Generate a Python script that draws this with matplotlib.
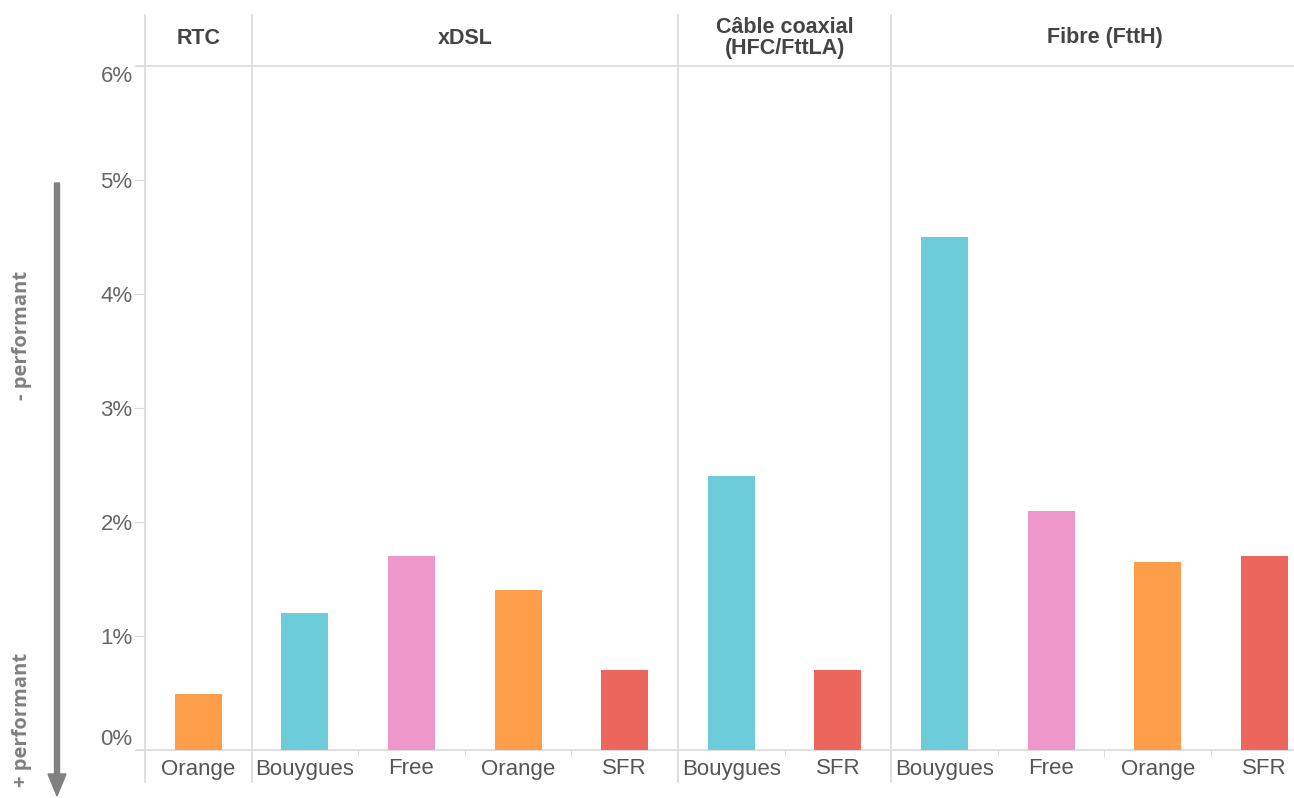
import numpy as np
import matplotlib.pyplot as plt
from matplotlib.transforms import blended_transform_factory

# Données (taux en %)
groupes = ["RTC", "xDSL", "Câble coaxial\n(HFC/FttLA)", "Fibre (FttH)"]
operateurs = [["Orange"],
              ["Bouygues", "Free", "Orange", "SFR"],
              ["Bouygues", "SFR"],
              ["Bouygues", "Free", "Orange", "SFR"]]
valeurs = [[0.49],
           [1.2, 1.7, 1.4, 0.7],
           [2.4, 0.7],
           [4.5, 2.1, 1.65, 1.7]]
couleurs = {"Bouygues": "#6DCCDA", "Free": "#ED97CA",
            "Orange": "#FF9E4A", "SFR": "#ED665D"}
yticks = [0, 1, 2, 3, 4, 5, 6]

plt.rcParams['font.family'] = ['Liberation Sans', 'DejaVu Sans']

W, H = 1294, 798
fig = plt.figure(figsize=(W / 100, H / 100), dpi=100)
x0, y_top, y_bot = 145, 66, 750
slot = 106.6
ax = fig.add_axes([x0 / W, (H - y_bot) / H, 1 - x0 / W, (y_bot - y_top) / H])

# Barres
pos = 0
labels_x, labels_txt, bords, sep = [], [], [], [0]
for g, ops, vals in zip(groupes, operateurs, valeurs):
    for i, (op, v) in enumerate(zip(ops, vals)):
        c = pos + 0.5
        ax.bar(c, v, width=0.44, color=couleurs[op], zorder=2)
        labels_x.append(c)
        labels_txt.append(op)
        if i > 0:
            bords.append(pos)
        pos += 1
    sep.append(pos)

ax.set_xlim(0, (W - x0) / slot)
ax.set_ylim(0, 6)

for s in ax.spines.values():
    s.set_visible(False)

ax.set_yticks(yticks)
ax.set_yticklabels([f"{t}%" for t in yticks])
ax.tick_params(axis='y', length=8, color='#d9d9d9', labelsize=16,
               labelcolor='#666666', pad=1)
tl = ax.get_yticklabels()
tl[0].set_va('bottom')
tl[-1].set_va('top')

ax.set_xticks(bords, minor=True)
ax.set_xticks([])
ax.tick_params(axis='x', which='minor', length=5, color='#d9d9d9')

# Lignes horizontales (axe et en-tête)
trans_ax = blended_transform_factory(fig.transFigure, ax.transData)
for yv in (0, 6):
    ax.plot([137 / W, 1], [yv, yv], color='#d9d9d9', lw=1.2,
            transform=trans_ax, clip_on=False, zorder=1)

# Séparateurs verticaux et en-têtes
ax_top = blended_transform_factory(ax.transData, fig.transFigure)
for i, s in enumerate(sep[:-1]):
    ax.plot([s, s], [1 - 15 / H, 1 - 782 / H], color='#d9d9d9', lw=1.2,
            transform=ax_top, clip_on=False, zorder=1)
for g, a, b in zip(groupes, sep[:-1], sep[1:]):
    ax.text((a + b) / 2, 1 - 38 / H, g, transform=ax_top, ha='center',
            va='center', fontsize=15.5, fontweight='bold', color='#444444',
            linespacing=1.05)

# Libellés des opérateurs
for c, t in zip(labels_x, labels_txt):
    ax.text(c, 1 - 769 / H, t, transform=ax_top, ha='center', va='center',
            fontsize=16, color='#555555')

# Flèche de performance
fig.patches.append(plt.matplotlib.patches.FancyArrow(
    57 / W, 1 - 183 / H, 0, -(798 - 183 - 2) / H, width=5 / W,
    head_width=18 / W, head_length=22 / H, length_includes_head=True,
    color='#808080', transform=fig.transFigure, figure=fig))
fig.text(22 / W, 1 - 335 / H, "- performant", rotation=90, ha='center',
         va='center', fontsize=14.5, fontweight='bold', color='#808080',
         family=['Open Sans', 'DejaVu Sans'])
fig.text(22 / W, 1 - 720 / H, "+ performant", rotation=90, ha='center',
         va='center', fontsize=14.5, fontweight='bold', color='#808080',
         family=['Open Sans', 'DejaVu Sans'])

fig.savefig("out.png", dpi=100)
